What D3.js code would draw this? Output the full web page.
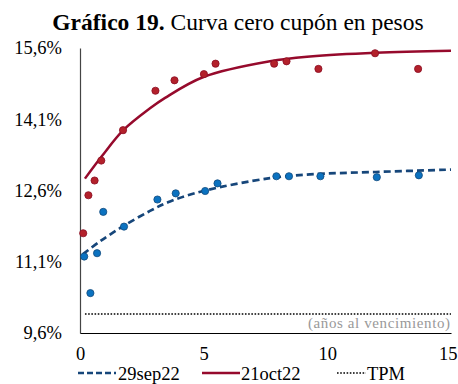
<!DOCTYPE html>
<html>
<head>
<meta charset="utf-8">
<script src="https://cdn.jsdelivr.net/npm/d3@7"></script>
<style>
  html, body { margin: 0; padding: 0; background: #fff; }
  svg { display: block; font-family: "Liberation Serif", "Times New Roman", serif; }
</style>
</head>
<body>
<svg id="chart" width="458" height="384"></svg>
<script>
// Zero-coupon curve in pesos: observed yields and fitted curves (years to maturity, % yield)
const sepMaturity = [0.17, 0.42, 0.69, 0.94, 1.78, 3.13, 3.87, 5.06, 5.56, 7.94, 8.45, 9.72, 12.0, 13.70];
const sepYield    = [11.21, 10.44, 11.28, 12.15, 11.84, 12.41, 12.54, 12.59, 12.75, 12.90, 12.90, 12.90, 12.88, 12.92];
const octMaturity = [0.13, 0.34, 0.59, 0.86, 1.74, 3.05, 3.82, 5.01, 5.48, 7.85, 8.35, 9.64, 11.93, 13.67];
const octYield    = [11.70, 12.50, 12.81, 13.23, 13.87, 14.70, 14.92, 15.05, 15.27, 15.27, 15.32, 15.16, 15.49, 15.16];

// Fitted curves, sampled along maturity
const sepCurveX = [0.12, 0.81, 1.75, 2.83, 3.64, 4.99, 7.68, 9.30, 11.96, 15];
const sepCurveY = [11.26, 11.53, 11.85, 12.17, 12.37, 12.59, 12.86, 12.94, 12.99, 13.04];
const octCurveX = [0.20, 0.88, 1.75, 2.83, 3.44, 4.99, 7.68, 9.30, 11.96, 15];
const octCurveY = [12.85, 13.32, 13.87, 14.33, 14.55, 14.99, 15.32, 15.42, 15.50, 15.54];

const tpmRate = 10.0;
const tpmFrom = 0.2;

const yTicks = [9.6, 11.1, 12.6, 14.1, 15.6];
const xTicks = [0, 5, 10, 15];

const legendLabels = ["29sep22", "21oct22", "TPM"];

const colors = {
  sepLine: "#16467a", sepFill: "#0b72c0", sepStroke: "#124a7c",
  octLine: "#960a2c", octFill: "#b3212b", octStroke: "#8a0d22"
};

const svg = d3.select("#chart");
const x = d3.scaleLinear().domain([0, 15]).range([80, 451]);
const y = d3.scaleLinear().domain([9.6, 15.6]).range([333, 48]);

// Title
const title = svg.append("text")
  .attr("x", 238).attr("y", 30)
  .attr("text-anchor", "middle")
  .attr("font-size", 23.5)
  .attr("fill", "#000");
title.append("tspan").attr("font-weight", "bold").text("Gráfico 19.");
title.append("tspan").text(" Curva cero cupón en pesos");

// Y axis
const yAxis = d3.axisLeft(y).tickValues(yTicks).tickSize(0).tickPadding(18)
  .tickFormat(d => d3.format(".1f")(d).replace(".", ",") + "%");
const gy = svg.append("g").attr("transform", "translate(80,0)").call(yAxis);
gy.select(".domain").attr("stroke", "#444").attr("stroke-width", 1.2);
gy.selectAll("text").attr("font-size", 18.5).attr("fill", "#000")
  .attr("font-family", "Liberation Serif, Times New Roman, serif");

// X axis
const xAxis = d3.axisBottom(x).tickValues(xTicks).tickSize(0).tickPadding(14)
  .tickFormat(d3.format("d"));
const gx = svg.append("g").attr("transform", "translate(0,333)").call(xAxis);
gx.select(".domain").attr("stroke", "#000").attr("stroke-width", 1.2);
gx.selectAll("text").attr("font-size", 18.5).attr("fill", "#000")
  .attr("font-family", "Liberation Serif, Times New Roman, serif");
// keep the last tick label inside the frame
gx.selectAll(".tick text").filter(d => d === 15).attr("text-anchor", "end").attr("dx", 6);

// Axis caption
svg.append("text")
  .attr("x", 450).attr("y", 328)
  .attr("text-anchor", "end")
  .attr("font-size", 15)
  .attr("textLength", 142)
  .attr("lengthAdjust", "spacing")
  .attr("fill", "#999")
  .text("(años al vencimiento)");

// Policy rate (TPM)
svg.append("line")
  .attr("x1", x(tpmFrom)).attr("x2", x(15))
  .attr("y1", y(tpmRate)).attr("y2", y(tpmRate))
  .attr("stroke", "#000").attr("stroke-width", 1.6)
  .attr("stroke-dasharray", "1.6,1.6");

const line = d3.line().x(d => x(d[0])).y(d => y(d[1])).curve(d3.curveCatmullRom.alpha(0.5));

// 29sep22 fitted curve (dashed)
svg.append("path")
  .datum(d3.zip(sepCurveX, sepCurveY))
  .attr("d", line)
  .attr("fill", "none")
  .attr("stroke", colors.sepLine)
  .attr("stroke-width", 2.7)
  .attr("stroke-dasharray", "7,4");

// 21oct22 fitted curve (solid)
svg.append("path")
  .datum(d3.zip(octCurveX, octCurveY))
  .attr("d", line)
  .attr("fill", "none")
  .attr("stroke", colors.octLine)
  .attr("stroke-width", 2.5);

// Observed yields
svg.append("g").selectAll("circle")
  .data(d3.zip(sepMaturity, sepYield))
  .join("circle")
  .attr("cx", d => x(d[0])).attr("cy", d => y(d[1])).attr("r", 3.6)
  .attr("fill", colors.sepFill).attr("stroke", colors.sepStroke).attr("stroke-width", 0.8);

svg.append("g").selectAll("circle")
  .data(d3.zip(octMaturity, octYield))
  .join("circle")
  .attr("cx", d => x(d[0])).attr("cy", d => y(d[1])).attr("r", 3.6)
  .attr("fill", colors.octFill).attr("stroke", colors.octStroke).attr("stroke-width", 0.8);

// Legend
const legendY = 373;
const legend = [
  { x1: 78, x2: 116, tx: 118, stroke: colors.sepLine, width: 2.5, dash: "6,3" },
  { x1: 202, x2: 240, tx: 241, stroke: colors.octLine, width: 2.5, dash: null },
  { x1: 337, x2: 366, tx: 367, stroke: "#000", width: 1.6, dash: "1.6,1.6" }
];
legend.forEach((l, i) => {
  svg.append("line")
    .attr("x1", l.x1).attr("x2", l.x2)
    .attr("y1", legendY).attr("y2", legendY)
    .attr("stroke", l.stroke).attr("stroke-width", l.width)
    .attr("stroke-dasharray", l.dash);
  svg.append("text")
    .attr("x", l.tx).attr("y", legendY + 6.5)
    .attr("font-size", 18.5).attr("fill", "#000")
    .text(legendLabels[i]);
});
</script>
</body>
</html>
